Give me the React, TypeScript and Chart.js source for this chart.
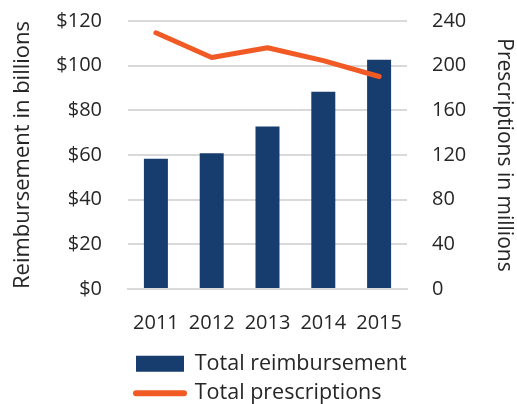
import React, { useEffect, useRef } from "react";
import { Chart, registerables } from "chart.js";

Chart.register(...registerables);

const categories = ["2011", "2012", "2013", "2014", "2015"];
const reimbursement = [58.3, 60.8, 72.8, 88.3, 102.7];
const prescriptions = [229.5, 207.3, 216, 204.5, 190.3];
const leftTicks = [0, 20, 40, 60, 80, 100, 120];
const rightTicks = [0, 40, 80, 120, 160, 200, 240];

const FONT = "'Open Sans', 'Noto Sans', sans-serif";
const TEXT = "#262626";
const GRID = "#d9d9d9";
const BAR = "#173c6e";
const LINE = "#f15a24";

const W = 517;
const SHIFT = -17;
const H = 414 - SHIFT;

export default function App() {
  const ref = useRef<HTMLCanvasElement | null>(null);
  useEffect(() => {
    if (!ref.current) return;
    const chart = new Chart(ref.current, {
      type: "bar",
      data: {
        labels: categories,
        datasets: [
          {
            type: "bar",
            label: "Total reimbursement",
            data: reimbursement,
            backgroundColor: BAR,
            borderWidth: 0,
            yAxisID: "y",
            categoryPercentage: 1,
            barPercentage: 0.43,
            order: 1,
            pointStyle: "rect",
          } as any,
          {
            type: "line",
            label: "Total prescriptions",
            data: prescriptions,
            borderColor: LINE,
            backgroundColor: LINE,
            borderWidth: 5,
            pointRadius: 0,
            tension: 0,
            yAxisID: "y1",
            order: 0,
            pointStyle: "line",
            borderCapStyle: "round",
            borderJoinStyle: "round",
          } as any,
        ],
      },
      options: {
        responsive: false,
        animation: false,
        layout: { padding: { left: 10, right: 0, top: 0, bottom: 0 } },
        plugins: {
          tooltip: { enabled: false },
          legend: {
            position: "bottom",
            align: "start",
            fullSize: false,
            labels: {
              usePointStyle: true,
              pointStyleWidth: 48,
              boxHeight: 16,
              padding: 8,
              color: TEXT,
              font: { family: FONT, size: 21.5 },
              sort: (a: any, b: any) => a.datasetIndex - b.datasetIndex,
              generateLabels: (c: any) => {
                const items = Chart.defaults.plugins.legend.labels.generateLabels(c);
                items.forEach((it: any) => {
                  if (it.pointStyle === "line") {
                    it.lineWidth = 6;
                    it.lineCap = "round";
                  } else {
                    it.lineWidth = 0;
                  }
                });
                return items;
              },
            },
          },
        },
        scales: {
          x: {
            grid: { display: false, drawTicks: false },
            border: { display: true, color: GRID, width: 2 },
            ticks: { color: TEXT, font: { family: FONT, size: 20 }, padding: 22, maxRotation: 0 },
            afterFit: (axis: any) => {
              axis.height = 56;
            },
          },
          y: {
            position: "left",
            min: 0,
            max: 120,
            afterBuildTicks: (axis: any) => {
              axis.ticks = leftTicks.map((v) => ({ value: v }));
            },
            afterFit: (axis: any) => {
              axis.width = 118;
            },
            grid: { color: GRID, lineWidth: 2, drawTicks: false },
            border: { display: false },
            ticks: {
              color: TEXT,
              font: { family: FONT, size: 20 },
              padding: 26,
              callback: (v: any) => "$" + v,
            },
            title: {
              display: true,
              text: "Reimbursement in billions",
              color: TEXT,
              font: { family: FONT, size: 22 },
              padding: 0,
            },
          },
          y1: {
            position: "right",
            min: 0,
            max: 240,
            afterBuildTicks: (axis: any) => {
              axis.ticks = rightTicks.map((v) => ({ value: v }));
            },
            afterFit: (axis: any) => {
              axis.width = 110;
            },
            grid: { display: false, drawTicks: false },
            border: { display: false },
            ticks: {
              color: TEXT,
              font: { family: FONT, size: 20 },
              padding: 25,
            },
            title: {
              display: true,
              text: "Prescriptions in millions",
              color: TEXT,
              font: { family: FONT, size: 21 },
              padding: 0,
            },
          },
        },
      },
    });
    return () => chart.destroy();
  }, []);
  return (
    <div style={{ position: "fixed", left: 0, top: 0, width: 517, height: 404, overflow: "hidden", background: "#fff" }}>
      <canvas
        ref={ref}
        width={W}
        height={H}
        style={{ position: "absolute", left: 0, top: SHIFT, width: W, height: H }}
      />
    </div>
  );
}
